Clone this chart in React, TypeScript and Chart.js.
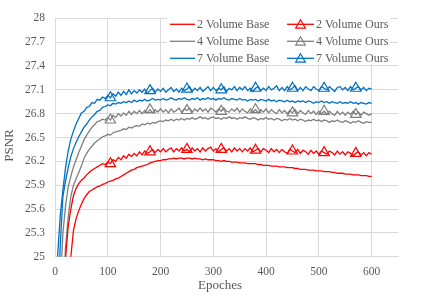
import React, { useEffect, useRef } from 'react';
import { Chart, registerables } from 'chart.js';

Chart.register(...registerables);

const epochs = [
  0, 5, 10, 15, 20, 25, 30, 35, 40, 45, 50, 55, 60, 65, 70, 75, 80, 85, 90, 95,
  100, 105, 110, 115, 120, 125, 130, 135, 140, 145, 150, 155, 160, 165, 170, 175, 180, 185, 190, 195,
  200, 205, 210, 215, 220, 225, 230, 235, 240, 245, 250, 255, 260, 265, 270, 275, 280, 285, 290, 295,
  300, 305, 310, 315, 320, 325, 330, 335, 340, 345, 350, 355, 360, 365, 370, 375, 380, 385, 390, 395,
  400, 405, 410, 415, 420, 425, 430, 435, 440, 445, 450, 455, 460, 465, 470, 475, 480, 485, 490, 495,
  500, 505, 510, 515, 520, 525, 530, 535, 540, 545, 550, 555, 560, 565, 570, 575, 580, 585, 590, 595,
  600,
];

const base2 = [
  21.5, 22.2, 22.8, 23.4, 23.95, 24.5, 25.0, 25.33, 25.48, 25.58, 25.66, 25.73, 25.78, 25.82, 25.84, 25.86, 25.88, 25.89, 25.91, 25.92,
  25.94, 25.95, 25.96, 25.98, 25.99, 26.01, 26.03, 26.05, 26.07, 26.09, 26.1, 26.12, 26.13, 26.14, 26.15, 26.16, 26.18, 26.19, 26.2, 26.21,
  26.21, 26.22, 26.22, 26.23, 26.23, 26.24, 26.23, 26.24, 26.24, 26.23, 26.24, 26.24, 26.23, 26.24, 26.23, 26.23, 26.22, 26.23, 26.22, 26.22,
  26.22, 26.21, 26.21, 26.2, 26.21, 26.2, 26.2, 26.19, 26.19, 26.19, 26.18, 26.18, 26.18, 26.17, 26.17, 26.17, 26.17, 26.16, 26.16, 26.15,
  26.15, 26.15, 26.14, 26.14, 26.14, 26.13, 26.13, 26.13, 26.12, 26.12, 26.12, 26.11, 26.11, 26.1, 26.1, 26.1, 26.09, 26.09, 26.09, 26.08,
  26.08, 26.08, 26.07, 26.07, 26.07, 26.06, 26.06, 26.05, 26.05, 26.05, 26.04, 26.04, 26.04, 26.03, 26.03, 26.03, 26.02, 26.02, 26.02, 26.01,
  26.01,
];

const base4 = [
  22.5, 23.3, 23.9, 24.5, 25.12, 25.5, 25.76, 25.9, 25.98, 26.06, 26.14, 26.24, 26.3, 26.35, 26.39, 26.43, 26.46, 26.48, 26.51, 26.52,
  26.54, 26.53, 26.56, 26.57, 26.58, 26.59, 26.61, 26.6, 26.63, 26.62, 26.64, 26.65, 26.64, 26.67, 26.66, 26.68, 26.67, 26.69, 26.68, 26.7,
  26.71, 26.7, 26.72, 26.71, 26.73, 26.71, 26.73, 26.72, 26.74, 26.72, 26.74, 26.73, 26.75, 26.73, 26.74, 26.76, 26.74, 26.75, 26.73, 26.75,
  26.76, 26.74, 26.75, 26.73, 26.75, 26.74, 26.76, 26.74, 26.75, 26.73, 26.75, 26.74, 26.76, 26.74, 26.73, 26.75, 26.74, 26.72, 26.74, 26.73,
  26.75, 26.73, 26.74, 26.72, 26.74, 26.73, 26.71, 26.73, 26.72, 26.74, 26.72, 26.73, 26.71, 26.73, 26.72, 26.7, 26.72, 26.71, 26.73, 26.71,
  26.72, 26.7, 26.72, 26.71, 26.69, 26.71, 26.7, 26.72, 26.7, 26.69, 26.71, 26.7, 26.68, 26.7, 26.69, 26.71, 26.69, 26.68, 26.7, 26.69,
  26.69,
];

const base7 = [
  23.0, 24.3, 25.15, 25.76, 25.95, 26.12, 26.26, 26.36, 26.44, 26.51, 26.57, 26.63, 26.67, 26.72, 26.76, 26.79, 26.83, 26.84, 26.88, 26.89,
  26.91, 26.9, 26.93, 26.92, 26.94, 26.93, 26.95, 26.94, 26.96, 26.94, 26.97, 26.95, 26.97, 26.96, 26.98, 26.96, 26.97, 26.99, 26.97, 26.98,
  26.97, 26.99, 26.97, 26.98, 27.0, 26.98, 26.97, 26.99, 26.98, 27.0, 26.98, 26.97, 26.99, 26.98, 27.0, 26.97, 26.99, 26.98, 27.0, 26.98,
  26.99, 26.97, 26.99, 26.98, 27.0, 26.98, 26.97, 26.99, 26.98, 26.97, 26.99, 26.97, 26.98, 26.96, 26.98, 26.97, 26.98, 26.96, 26.98, 26.97,
  26.96, 26.98, 26.96, 26.97, 26.95, 26.97, 26.96, 26.95, 26.97, 26.95, 26.96, 26.94, 26.96, 26.95, 26.96, 26.94, 26.96, 26.95, 26.93, 26.95,
  26.94, 26.96, 26.94, 26.95, 26.93, 26.95, 26.94, 26.93, 26.95, 26.93, 26.94, 26.93, 26.95, 26.93, 26.94, 26.92, 26.94, 26.93, 26.92, 26.94,
  26.93,
];

const ours2 = [
  22.0, 22.9, 23.6, 24.3, 24.98, 25.38, 25.6, 25.77, 25.86, 25.92, 25.96, 25.99, 26.03, 26.06, 26.09, 26.11, 26.13, 26.15, 26.17, 26.16,
  26.19, 26.17, 26.22, 26.2, 26.25, 26.22, 26.27, 26.24, 26.29, 26.26, 26.3, 26.27, 26.32, 26.28, 26.33, 26.3, 26.32, 26.35, 26.31, 26.35,
  26.32, 26.36, 26.32, 26.35, 26.37, 26.32, 26.36, 26.33, 26.37, 26.33, 26.35, 26.32, 26.37, 26.33, 26.36, 26.32, 26.37, 26.33, 26.36, 26.38,
  26.33, 26.36, 26.32, 26.35, 26.37, 26.33, 26.36, 26.32, 26.37, 26.33, 26.36, 26.32, 26.36, 26.33, 26.37, 26.32, 26.34, 26.36, 26.32, 26.36,
  26.34, 26.31, 26.36, 26.32, 26.35, 26.31, 26.35, 26.32, 26.3, 26.35, 26.33, 26.31, 26.35, 26.3, 26.34, 26.32, 26.29, 26.34, 26.3, 26.33,
  26.29, 26.33, 26.31, 26.29, 26.33, 26.31, 26.28, 26.33, 26.29, 26.32, 26.28, 26.32, 26.3, 26.27, 26.3, 26.32, 26.28, 26.31, 26.27, 26.31,
  26.29,
];

const ours4 = [
  22.8, 23.9, 24.65, 25.3, 25.64, 25.88, 26.01, 26.13, 26.22, 26.31, 26.39, 26.47, 26.53, 26.58, 26.63, 26.66, 26.7, 26.71, 26.73, 26.72,
  26.75, 26.72, 26.78, 26.75, 26.8, 26.77, 26.81, 26.78, 26.83, 26.79, 26.83, 26.8, 26.84, 26.8, 26.84, 26.81, 26.85, 26.81, 26.85, 26.82,
  26.86, 26.82, 26.85, 26.81, 26.86, 26.82, 26.84, 26.87, 26.82, 26.86, 26.84, 26.87, 26.82, 26.86, 26.83, 26.87, 26.83, 26.86, 26.82, 26.87,
  26.85, 26.82, 26.86, 26.83, 26.87, 26.83, 26.82, 26.86, 26.83, 26.87, 26.82, 26.86, 26.83, 26.81, 26.86, 26.82, 26.85, 26.81, 26.85, 26.82,
  26.86, 26.81, 26.85, 26.82, 26.8, 26.85, 26.81, 26.84, 26.8, 26.84, 26.81, 26.85, 26.8, 26.84, 26.81, 26.79, 26.84, 26.8, 26.83, 26.79,
  26.83, 26.8, 26.83, 26.79, 26.83, 26.8, 26.78, 26.83, 26.79, 26.82, 26.78, 26.82, 26.79, 26.83, 26.79, 26.82, 26.78, 26.82, 26.8, 26.78,
  26.8,
];

const ours7 = [
  23.6, 25.02, 25.52, 25.84, 26.12, 26.33, 26.48, 26.58, 26.67, 26.74, 26.81, 26.83, 26.88, 26.89, 26.94, 26.93, 26.98, 26.97, 27.01, 26.99,
  27.03, 27.0, 27.05, 27.02, 27.07, 27.03, 27.08, 27.04, 27.1, 27.05, 27.09, 27.06, 27.1, 27.07, 27.11, 27.06, 27.09, 27.12, 27.07, 27.11,
  27.08, 27.12, 27.07, 27.1, 27.13, 27.08, 27.11, 27.07, 27.12, 27.09, 27.11, 27.14, 27.08, 27.12, 27.09, 27.13, 27.08, 27.11, 27.14, 27.09,
  27.13, 27.09, 27.12, 27.1, 27.14, 27.08, 27.12, 27.1, 27.14, 27.09, 27.13, 27.1, 27.14, 27.09, 27.12, 27.08, 27.12, 27.14, 27.09, 27.12,
  27.09, 27.14, 27.1, 27.12, 27.15, 27.09, 27.13, 27.09, 27.14, 27.1, 27.12, 27.15, 27.09, 27.13, 27.09, 27.14, 27.11, 27.09, 27.14, 27.11,
  27.09, 27.14, 27.12, 27.1, 27.14, 27.11, 27.08, 27.13, 27.14, 27.1, 27.13, 27.09, 27.14, 27.1, 27.12, 27.14, 27.1, 27.13, 27.09, 27.12,
  27.11,
];

const markerEpochs = [105, 180, 250, 315, 380, 450, 510, 570];

const xTickValues = [0, 100, 200, 300, 400, 500, 600];
const yTickValues = [25, 25.3, 25.6, 25.9, 26.2, 26.5, 26.8, 27.1, 27.4, 27.7, 28];
const yTickLabels = ['25', '25.3', '25.6', '25.9', '26.2', '26.5', '26.8', '27.1', '27.4', '27.7', '28'];

const seriesNames = ['2 Volume Base', '4 Volume Base', '7 Volume Base', '2 Volume Ours', '4 Volume Ours', '7 Volume Ours'];

const RED = '#FF0000';
const GREY = '#7F7F7F';
const BLUE = '#0070C0';
const TEXT = '#595959';
const GRID = '#D9D9D9';
const FONT = '"Liberation Serif", "Times New Roman", serif';

function toPoints(values: number[]) {
  return epochs.map((e, i) => ({ x: e, y: values[i] }));
}

const legendPlugin = {
  id: 'twoColumnLegend',
  afterDraw(chart: any) {
    const { ctx, chartArea } = chart;
    const left = chartArea.left;
    const top = chartArea.top;
    ctx.save();
    ctx.fillStyle = '#FFFFFF';
    ctx.fillRect(left + 112, top - 6, 223, 52);
    ctx.font = `12px ${FONT}`;
    ctx.textBaseline = 'middle';
    ctx.textAlign = 'left';
    const ds = chart.data.datasets;
    for (let i = 0; i < ds.length; i++) {
      const col = i < 3 ? 0 : 1;
      const row = i % 3;
      const y = top + 6 + row * 17;
      const x0 = left + (col === 0 ? 115 : 232);
      const x1 = x0 + (col === 0 ? 25 : 27);
      ctx.strokeStyle = ds[i].borderColor;
      ctx.lineWidth = 1.3;
      ctx.beginPath();
      ctx.moveTo(x0, y);
      ctx.lineTo(x1, y);
      ctx.stroke();
      if (col === 1) {
        const cx = (x0 + x1) / 2;
        ctx.beginPath();
        const r = 5.5;
        const cy = y + 1;
        ctx.moveTo(cx, cy - r);
        ctx.lineTo(cx + r * Math.sin(Math.PI * 2 / 3), cy - r * Math.cos(Math.PI * 2 / 3));
        ctx.lineTo(cx + r * Math.sin(Math.PI * 4 / 3), cy - r * Math.cos(Math.PI * 4 / 3));
        ctx.closePath();
        ctx.lineWidth = 1.2;
        ctx.stroke();
      }
      ctx.fillStyle = TEXT;
      ctx.fillText(ds[i].label, x1 + 2, y + 0.5);
    }
    ctx.restore();
  },
};

const titlePlugin = {
  id: 'axisTitles',
  afterDraw(chart: any) {
    const { ctx, chartArea } = chart;
    ctx.save();
    ctx.fillStyle = TEXT;
    ctx.font = `13px ${FONT}`;
    ctx.textAlign = 'center';
    ctx.textBaseline = 'middle';
    ctx.fillText('Epoches', (chartArea.left + chartArea.right) / 2 - 6.5, chartArea.bottom + 29);
    ctx.translate(9.5, (chartArea.top + chartArea.bottom) / 2 + 8);
    ctx.rotate(-Math.PI / 2);
    ctx.fillText('PSNR', 0, 0);
    ctx.restore();
  },
};

export default function App() {
  const canvasRef = useRef<HTMLCanvasElement | null>(null);

  useEffect(() => {
    if (!canvasRef.current) return;
    const all = [base2, base4, base7, ours2, ours4, ours7];
    const colors = [RED, GREY, BLUE, RED, GREY, BLUE];
    const datasets = all.map((vals, i) => {
      const isOurs = i >= 3;
      return {
        label: seriesNames[i],
        data: toPoints(vals),
        borderColor: colors[i],
        backgroundColor: colors[i],
        borderWidth: 1.3,
        tension: 0,
        pointStyle: 'triangle',
        pointRadius: (c: any) =>
          isOurs && markerEpochs.includes(epochs[c.dataIndex]) ? 6 : 0,
        pointHoverRadius: 0,
        pointBorderWidth: 1.2,
        pointBorderColor: colors[i],
        pointBackgroundColor: 'rgba(0,0,0,0)',
        order: isOurs ? 0 : 1,
      };
    });

    const chart = new Chart(canvasRef.current, {
      type: 'line',
      data: { datasets },
      options: {
        animation: false,
        responsive: false,
        maintainAspectRatio: false,
        events: [],
        layout: { padding: { top: 18.3, right: 25, left: 0, bottom: 0 } },
        plugins: {
          legend: { display: false },
          tooltip: { enabled: false },
          title: { display: false },
        },
        scales: {
          x: {
            type: 'linear',
            min: 0,
            max: 650,
            afterBuildTicks: (s: any) => {
              s.ticks = xTickValues.map((v) => ({ value: v }));
            },
            afterFit: (s: any) => {
              s.height = 40.3;
            },
            grid: { color: GRID, lineWidth: 1, drawTicks: false },
            border: { color: GRID, width: 1 },
            ticks: {
              color: TEXT,
              font: { family: FONT, size: 11.5 },
              padding: 8,
              maxRotation: 0,
              autoSkip: false,
              callback: (v: any) => String(v),
            },
          },
          y: {
            type: 'linear',
            min: 25,
            max: 28,
            afterBuildTicks: (s: any) => {
              s.ticks = yTickValues.map((v) => ({ value: v }));
            },
            afterFit: (s: any) => {
              s.width = 55;
            },
            grid: { color: GRID, lineWidth: 1, drawTicks: false },
            border: { color: GRID, width: 1 },
            ticks: {
              color: TEXT,
              font: { family: FONT, size: 11.5 },
              padding: 10,
              autoSkip: false,
              callback: (_v: any, i: number) => yTickLabels[i],
            },
          },
        },
      } as any,
      plugins: [legendPlugin, titlePlugin],
    });
    return () => chart.destroy();
  }, []);

  return (
    <div style={{ position: 'absolute', left: 0, top: 0, width: 423, height: 297, background: '#fff' }}>
      <canvas ref={canvasRef} width={423} height={297} style={{ display: 'block', width: 423, height: 297 }} />
    </div>
  );
}
